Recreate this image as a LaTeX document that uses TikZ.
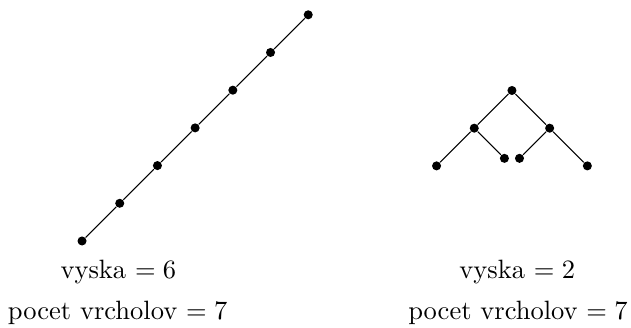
\documentclass[tikz,border=0pt]{standalone}
\usepackage{amsmath}
\usetikzlibrary{positioning}

\begin{document}
\begin{tikzpicture}[thin]
        \tikzset{vrchol/.style={circle, fill=black, inner sep=0pt, minimum size=1.2mm}}
        \useasboundingbox (0,0) rectangle (8.369,4.350);

        % 1. Retaz (vyska 6)
        \foreach \i in {0,...,6} {
            \node[vrchol] (c\i) at ({1.088+0.5*\i},{1.154+0.5*\i}) {};
        }
        \foreach \i [count=\j] in {0,...,5} \draw (c\i) -- (c\j);

        % 2. Strom (vyska 2)
        \node[vrchol] (r) at (6.79,3.15) {};
        \node[vrchol] (l) at (6.29,2.65) {};
        \node[vrchol] (p) at (7.29,2.65) {};
        \node[vrchol] (ll) at (5.79,2.15) {};
        \node[vrchol] (lp) at (6.69,2.25) {};
        \node[vrchol] (pl) at (6.89,2.25) {};
        \node[vrchol] (pp) at (7.79,2.15) {};
        \draw (r) -- (l);
        \draw (r) -- (p);
        \draw (l) -- (ll);
        \draw (l) -- (lp);
        \draw (p) -- (pl);
        \draw (p) -- (pp);

        % 3. Popisy
        \node (v1) at (1.57,0.74) {vyska $= 6$};
        \node (n1) at (1.56,0.20) {pocet vrcholov $= 7$};
        \node (v2) at (6.86,0.74) {vyska $= 2$};
        \node (n2) at (6.87,0.20) {pocet vrcholov $= 7$};

    \end{tikzpicture}
\end{document}
